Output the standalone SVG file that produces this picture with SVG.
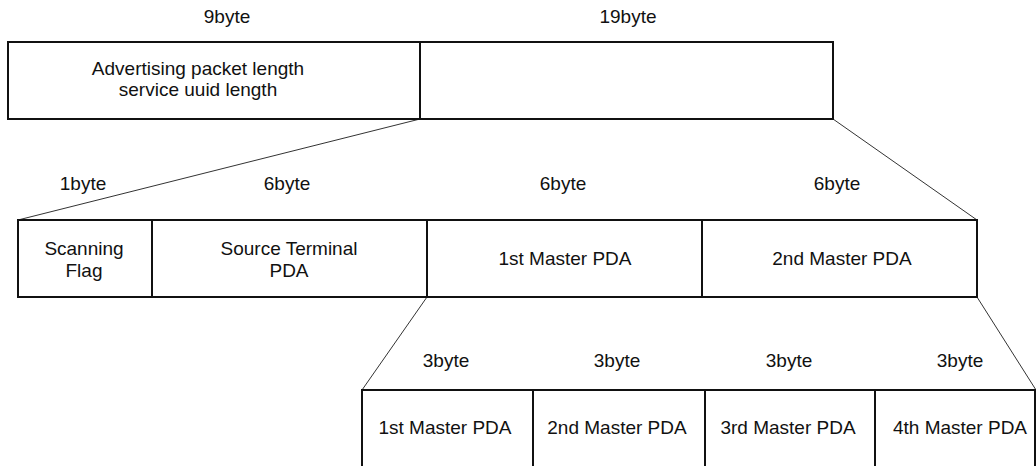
<svg xmlns="http://www.w3.org/2000/svg" width="1036" height="466" viewBox="0 0 1036 466">
<style>
.box{fill:#fff;stroke:#111;stroke-width:2}
.t{font-family:"Liberation Sans",Arial,sans-serif;font-size:19px;fill:#111;text-anchor:middle}
.c{stroke:#333;stroke-width:1;fill:none}
</style>
<rect width="1036" height="466" fill="#fff"/>
<g id="connectors">
<line class="c" x1="420" y1="119" x2="18" y2="220"/>
<line class="c" x1="833" y1="119" x2="977" y2="220"/>
<line class="c" x1="427" y1="297" x2="362" y2="390"/>
<line class="c" x1="977" y1="297" x2="1036" y2="390"/>
</g>
<g id="labels">
<text class="t" x="227" y="23">9byte</text>
<text class="t" x="628" y="23">19byte</text>
<text class="t" x="83" y="190">1byte</text>
<text class="t" x="287" y="190">6byte</text>
<text class="t" x="563" y="190">6byte</text>
<text class="t" x="837" y="190">6byte</text>
<text class="t" x="446" y="367">3byte</text>
<text class="t" x="617" y="367">3byte</text>
<text class="t" x="789" y="367">3byte</text>
<text class="t" x="960" y="367">3byte</text>
</g>
<g id="adv-length">
<rect class="box" x="8" y="42" width="412" height="77"/>
<text class="t" x="198" y="75">Advertising packet length</text>
<text class="t" x="198" y="96">service uuid length</text>
</g>
<g id="payload19">
<rect class="box" x="420" y="42" width="413" height="77"/>
</g>
<g id="scanning-flag">
<rect class="box" x="18" y="220" width="134" height="77"/>
<text class="t" x="84" y="255">Scanning</text>
<text class="t" x="84" y="277">Flag</text>
</g>
<g id="source-terminal">
<rect class="box" x="152" y="220" width="275" height="77"/>
<text class="t" x="289" y="255">Source Terminal</text>
<text class="t" x="289" y="277">PDA</text>
</g>
<g id="master1">
<rect class="box" x="427" y="220" width="275" height="77"/>
<text class="t" x="565" y="265">1st Master PDA</text>
</g>
<g id="master2">
<rect class="box" x="702" y="220" width="275" height="77"/>
<text class="t" x="842" y="265">2nd Master PDA</text>
</g>
<g id="sub1">
<rect class="box" x="362" y="390" width="171" height="90"/>
<text class="t" x="445" y="434">1st Master PDA</text>
</g>
<g id="sub2">
<rect class="box" x="533" y="390" width="172" height="90"/>
<text class="t" x="617" y="434">2nd Master PDA</text>
</g>
<g id="sub3">
<rect class="box" x="705" y="390" width="170" height="90"/>
<text class="t" x="788" y="434">3rd Master PDA</text>
</g>
<g id="sub4">
<rect class="box" x="875" y="390" width="160" height="90"/>
<text class="t" x="960" y="434">4th Master PDA</text>
</g>
</svg>
